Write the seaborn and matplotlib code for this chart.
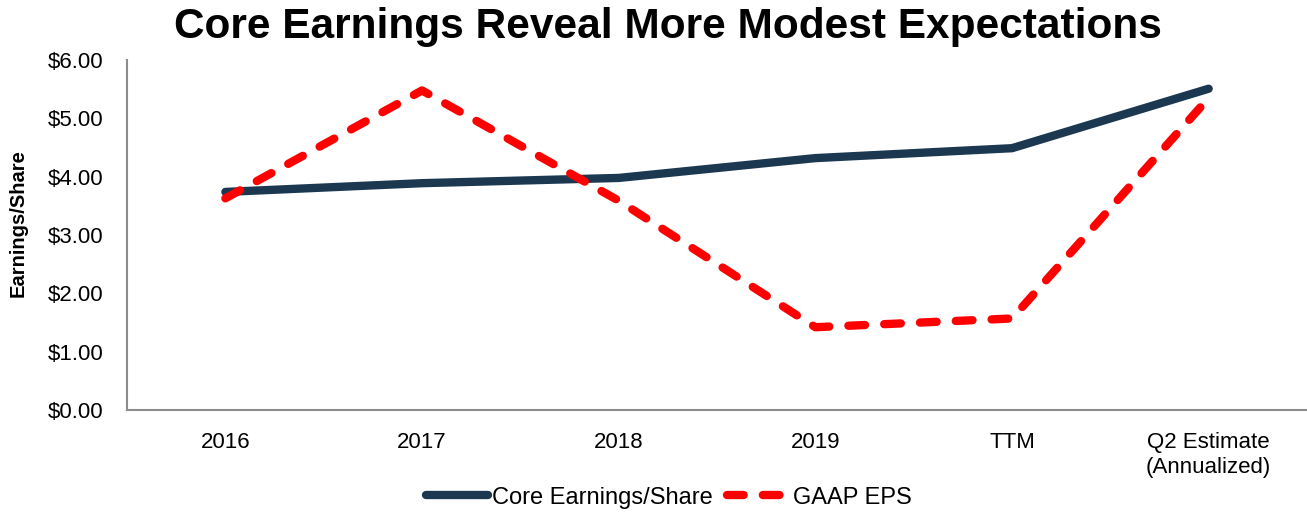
import matplotlib
matplotlib.use("Agg")
import matplotlib.pyplot as plt
import seaborn as sns
import pandas as pd
from matplotlib.ticker import FuncFormatter

categories = ["2016", "2017", "2018", "2019", "TTM", "Q2 Estimate\n(Annualized)"]
core_eps = [3.74, 3.89, 3.98, 4.32, 4.49, 5.51]
gaap_eps = [3.63, 5.48, 3.59, 1.42, 1.57, 5.35]
series_names = ["Core Earnings/Share", "GAAP EPS"]

df = pd.DataFrame({
    "period": categories * 2,
    "value": core_eps + gaap_eps,
    "series": [series_names[0]] * len(categories) + [series_names[1]] * len(categories),
})

sns.set_theme(style="white")
plt.rcParams["font.family"] = ["Liberation Sans", "DejaVu Sans"]
plt.rcParams["text.color"] = "black"
plt.rcParams["axes.labelcolor"] = "black"

fig = plt.figure(figsize=(13.07, 5.14), dpi=100)
ax = fig.add_axes([0.0972, 0.2023, 0.9028, 0.6807])

palette = {series_names[0]: "#1B3850", series_names[1]: "#FF0000"}
dashes = {series_names[0]: "", series_names[1]: (2.0, 2.3)}
sns.lineplot(data=df, x="period", y="value", hue="series", style="series",
             palette=palette, dashes=dashes, linewidth=6, sort=False, ax=ax,
             legend=True)
for ln in ax.get_lines():
    ln.set_solid_capstyle("round")
    ln.set_dash_capstyle("round")
    ln.set_solid_joinstyle("miter")

ax.set_xlim(-0.5, len(categories) - 0.5)
ax.set_ylim(0, 6)
ax.set_yticks([0, 1, 2, 3, 4, 5, 6])
ax.yaxis.set_major_formatter(FuncFormatter(lambda v, p: f"${v:.2f}"))
ax.set_xticks(range(len(categories)))
ax.set_xticklabels(categories, linespacing=1.25)
ax.tick_params(axis="both", length=0, labelsize=16, colors="black")
ax.tick_params(axis="x", pad=16)
ax.tick_params(axis="y", pad=17)
ax.set_xlabel("")
ax.set_ylabel("Earnings/Share", fontsize=14.5, fontweight="bold", color="black")
ax.yaxis.set_label_coords(-0.084, 0.535)

for s in ["top", "right"]:
    ax.spines[s].set_visible(False)
for s in ["left", "bottom"]:
    ax.spines[s].set_color("#8C8C8C")
    ax.spines[s].set_linewidth(1.5)

handles, labels = ax.get_legend_handles_labels()
leg = ax.legend(handles, labels, loc="center", bbox_to_anchor=(0.512, 0.032),
                bbox_transform=fig.transFigure, ncol=2, frameon=False,
                fontsize=17, handlelength=2.6, handletextpad=0.2,
                columnspacing=0.6)
for t in leg.get_texts():
    t.set_color("black")
for h in leg.get_lines():
    h.set_linewidth(6)
    h.set_solid_capstyle("round")
    h.set_dash_capstyle("round")

fig.text(0.511, 0.947, "Core Earnings Reveal More Modest Expectations",
         ha="center", va="center", fontsize=30.5, fontweight="bold", color="black")

fig.savefig("out.png", dpi=100)
